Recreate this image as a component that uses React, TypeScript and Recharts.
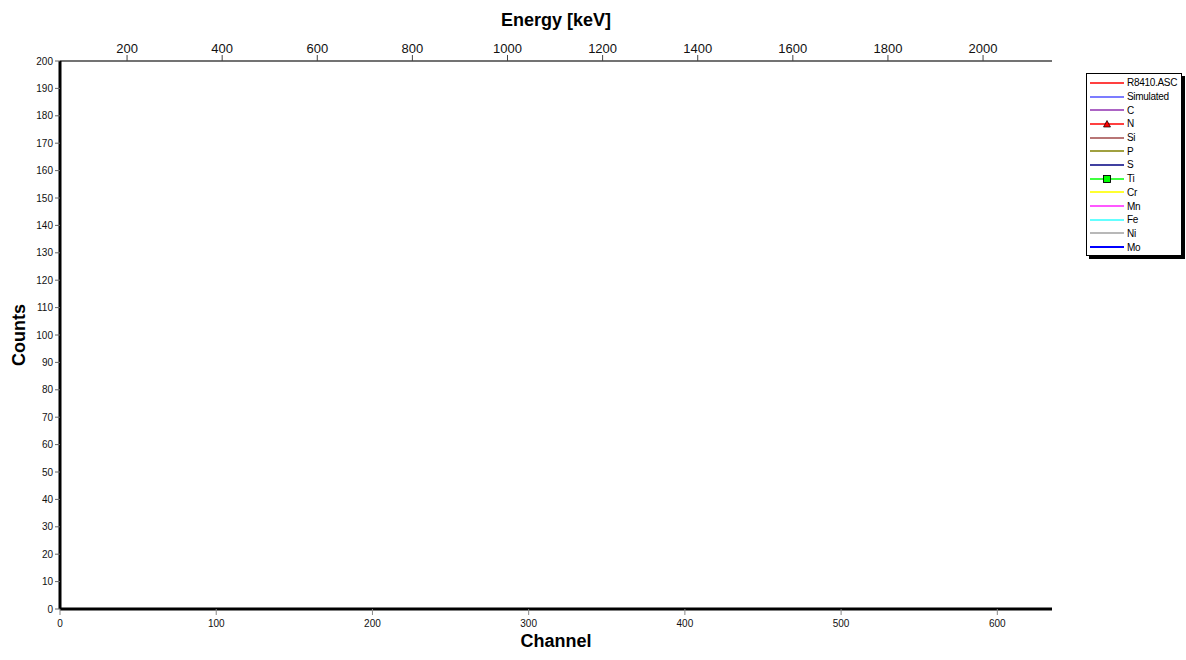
import * as React from "react";
import { ComposedChart, Line, XAxis, YAxis } from "recharts";

const FONT = "'Liberation Sans', Arial, sans-serif";

// Channel grid of the spectrum (no counts visible in the 0-200 window)
const channels = [0, 100, 200, 300, 400, 500, 600, 635];
const channelTicks = [0, 100, 200, 300, 400, 500, 600];
const channelMinorTicks = [25, 50, 75, 125, 150, 175, 225, 250, 275, 325, 350, 375, 425, 450, 475, 525, 550, 575, 625];
const countTicks = [0, 10, 20, 30, 40, 50, 60, 70, 80, 90, 100, 110, 120, 130, 140, 150, 160, 170, 180, 190, 200];
const energyTicks = [200, 400, 600, 800, 1000, 1200, 1400, 1600, 1800, 2000];
// energy calibration: E = offset + gain * channel
const E_OFFSET = 59;
const E_GAIN = 3.285;

const seriesNames = ["R8410.ASC", "Simulated", "C", "N", "Si", "P", "S", "Ti", "Cr", "Mn", "Fe", "Ni", "Mo"];
const seriesColors = ["#ff0000", "#5050ff", "#9030b0", "#ff0000", "#a04848", "#a0a040", "#000080", "#00ff00", "#ffff30", "#ff20ff", "#30ffff", "#a0a0a0", "#0000ff"];
const seriesWidths = [1.3, 1.3, 1.3, 1.3, 1.3, 2, 1.3, 1.3, 2, 1.3, 1.3, 1.3, 2.2];

const data = channels.map((ch) => ({ channel: ch }));

function minorCountTicks() {
  const t: number[] = [];
  for (let v = 0; v <= 200; v += 2.5) if (v % 10 !== 0) t.push(v);
  return t;
}

const NoLabel = () => <g />;

function LegendBox() {
  return (
    <div style={{
      position: "absolute", left: 1086, top: 73,
      width: 96, height: 183, border: "1px solid #000", background: "#fff",
      boxShadow: "3px 3px 0 #000", boxSizing: "border-box", paddingTop: 2,
    }}>
      {seriesNames.map((name, idx) => (
        <div key={name} style={{ display: "flex", alignItems: "center", height: 13.7 }}>
          <svg width={38} height={10} style={{ marginLeft: 2, flex: "none" }}>
            <line x1={1} y1={5} x2={35} y2={5} stroke={seriesColors[idx]} strokeWidth={seriesWidths[idx]} />
            {name === "N" && <polygon points="18,1.5 21.5,8 14.5,8" fill="#ff0000" stroke="#000" strokeWidth={0.7} />}
            {name === "Ti" && <rect x={14.5} y={1.5} width={7} height={7} fill="#00ff00" stroke="#000" strokeWidth={0.9} />}
          </svg>
          <span style={{ fontSize: 10, fontFamily: FONT, color: "#000", letterSpacing: -0.3, whiteSpace: "nowrap" }}>{name}</span>
        </div>
      ))}
    </div>
  );
}

export default function App() {
  const tickStyle = { fontSize: 10, fill: "#111", fontFamily: FONT };
  return (
    <div style={{ position: "absolute", left: 0, top: 0, width: 1186, height: 660, background: "#fff" }}>
      <ComposedChart width={1186} height={660} data={data}
        margin={{ top: 31, right: 134, bottom: 26, left: 20 }}>
        <XAxis xAxisId="chMinor" dataKey="channel" type="number" domain={[0, 635]} allowDataOverflow
          ticks={channelMinorTicks} height={0} tick={NoLabel} tickSize={4}
          axisLine={false} tickLine={{ stroke: "#777" }} />
        <XAxis xAxisId="ch" dataKey="channel" type="number" domain={[0, 635]} allowDataOverflow
          ticks={channelTicks} height={25} tickSize={6} tickMargin={5} tick={tickStyle}
          axisLine={{ stroke: "#000", strokeWidth: 3 }} tickLine={{ stroke: "#888" }} />
        <XAxis xAxisId="energy" dataKey="channel" orientation="top" type="number" domain={[0, 635]} allowDataOverflow
          ticks={energyTicks.map((e) => (e - E_OFFSET) / E_GAIN)}
          tickFormatter={(v: number) => String(Math.round(E_OFFSET + E_GAIN * v))}
          height={30} tickSize={6} tickMargin={2}
          tick={{ fontSize: 13, fill: "#111", fontFamily: FONT }}
          axisLine={{ stroke: "#444", strokeWidth: 1.5 }} tickLine={{ stroke: "#444" }} />
        <YAxis yAxisId="cntMinor" type="number" domain={[0, 200]} allowDataOverflow ticks={minorCountTicks()}
          width={0} tick={NoLabel} tickSize={3} axisLine={false} tickLine={{ stroke: "#777" }} />
        <YAxis yAxisId="cnt" type="number" domain={[0, 200]} allowDataOverflow ticks={countTicks}
          width={40} tickSize={5} tickMargin={2} tick={tickStyle}
          axisLine={{ stroke: "#000", strokeWidth: 3 }} tickLine={{ stroke: "#666" }} />
        <YAxis yAxisId="border" orientation="right" type="number" domain={[0, 200]} allowDataOverflow
          width={0} tick={NoLabel} tickLine={false} axisLine={{ stroke: "#000", strokeWidth: 2 }} />
        {seriesNames.map((name, i) => (
          <Line key={name} xAxisId="ch" yAxisId="cnt" dataKey={name} name={name}
            stroke={seriesColors[i]} strokeWidth={seriesWidths[i]} dot={false}
            isAnimationActive={false} />
        ))}
      </ComposedChart>
      <LegendBox />
      <div style={{ position: "absolute", left: 456, width: 200, top: 10, textAlign: "center",
        fontFamily: FONT, fontWeight: "bold", fontSize: 18 }}>Energy [keV]</div>
      <div style={{ position: "absolute", left: 456, width: 200, top: 631, textAlign: "center",
        fontFamily: FONT, fontWeight: "bold", fontSize: 18 }}>Channel</div>
      <div style={{ position: "absolute", left: 19, top: 335, width: 0, height: 0 }}>
        <div style={{ position: "absolute", transform: "translate(-50%, -50%) rotate(-90deg)",
          fontFamily: FONT, fontWeight: "bold", fontSize: 18, whiteSpace: "nowrap" }}>Counts</div>
      </div>
    </div>
  );
}
